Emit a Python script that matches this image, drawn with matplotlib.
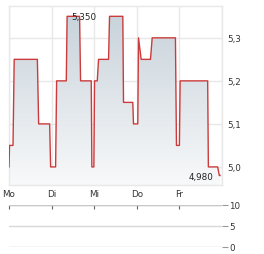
import numpy as np
import matplotlib
matplotlib.use('Agg')
import matplotlib.pyplot as plt
from matplotlib.patches import Polygon

# Kurs-Verlauf ueber die Woche (x in Tagen ab Montag)
zeit = [0.000, 0.012, 0.094, 0.122, 0.666, 0.696, 0.954, 0.977, 1.094, 1.118,
        1.345, 1.364, 1.657, 1.680, 1.931, 1.945, 1.992, 2.008, 2.072, 2.102,
        2.337, 2.360, 2.672, 2.688, 2.906, 2.922, 3.023, 3.040, 3.103, 3.321,
        3.361, 3.907, 3.931, 4.000, 4.017, 4.664, 4.680, 4.898, 4.938, 4.954]
kurs = [5.00, 5.05, 5.05, 5.25, 5.25, 5.10, 5.10, 5.00, 5.00, 5.20,
        5.20, 5.35, 5.35, 5.20, 5.20, 5.00, 5.00, 5.20, 5.20, 5.25,
        5.25, 5.35, 5.35, 5.15, 5.15, 5.10, 5.10, 5.30, 5.25, 5.25,
        5.30, 5.30, 5.05, 5.05, 5.20, 5.20, 5.00, 5.00, 4.98, 4.98]
tage = ['Mo', 'Di', 'Mi', 'Do', 'Fr']
kurs_ticks = [5.0, 5.1, 5.2, 5.3]
kurs_labels = ['5,0', '5,1', '5,2', '5,3']
vol_ticks = [0, 5, 10]
vol_labels = ['0', '5', '10']
hoch_label, hoch_x, hoch_y = '5,350', 1.47, 5.35
tief_label, tief_x, tief_y = '4,980', 4.80, 4.978

grid_c = '#e8e8e8'
text_c = '#333333'
fs = 6.3

fig = plt.figure(figsize=(2.64, 2.55), dpi=100)
ax = fig.add_axes([9/264, 1 - 186/255, 213/264, 179/255])
ymin, ymax = 4.958, 5.374
ax.set_xlim(0, 5)
ax.set_ylim(ymin, ymax)

# Verlaufsfuellung unter der Linie
grad = np.linspace(1, 0, 256).reshape(-1, 1)
top = np.array([0xc6, 0xd1, 0xd9]) / 255
bot = np.array([0xf8, 0xf9, 0xfa]) / 255
img = bot + (top - bot) * grad[..., None]
im = ax.imshow(img, extent=[0, 5, ymin, ymax], aspect='auto', zorder=1,
               origin='upper')
poly = Polygon(list(zip(zeit, kurs)) + [(zeit[-1], ymin), (zeit[0], ymin)],
               closed=True, facecolor='none', edgecolor='none')
ax.add_patch(poly)
im.set_clip_path(poly)

ax.plot(zeit, kurs, color='#cc3b3b', lw=1.0, zorder=3)

ax.set_xticks(range(len(tage)))
ax.set_xticklabels(tage)
ax.set_yticks(kurs_ticks)
ax.set_yticklabels(kurs_labels)
ax.yaxis.tick_right()
ax.tick_params(axis='both', length=0, labelsize=fs, colors=text_c)
ax.tick_params(axis='y', pad=4)
ax.tick_params(axis='x', pad=3)
for t in kurs_ticks:
    ax.axhline(t, color=grid_c, lw=1, zorder=0)
for t in range(6):
    ax.axvline(t, color=grid_c, lw=1, zorder=0)
for s in ax.spines.values():
    s.set_color(grid_c)
    s.set_linewidth(1)

ax.text(hoch_x, hoch_y, hoch_label, fontsize=fs, color='#222222',
        ha='left', va='center', zorder=4)
ax.text(tief_x, tief_y, tief_label, fontsize=fs, color='#222222',
        ha='right', va='center', zorder=4)

# Volumen-Bereich (leer)
vx = fig.add_axes([9/264, 1 - 248/255, 213/264, 42/255])
vx.set_xlim(0, 5)
vx.set_ylim(0, 10)
for s in vx.spines.values():
    s.set_visible(False)
for t in vol_ticks:
    vx.axhline(t, color='#d8d8d8' if t else '#cccccc', lw=1, zorder=0)
vx.axhline(10, color='#c8c8c8', lw=1)
vx.xaxis.tick_top()
vx.set_xticks(range(len(tage)))
vx.set_xticklabels([])
vx.tick_params(axis='x', direction='in', length=3, color='#666666', width=0.8)
vx.yaxis.tick_right()
vx.set_yticks(vol_ticks)
vx.set_yticklabels(vol_labels)
vx.tick_params(axis='y', length=4, color='#999999', width=0.8,
               labelsize=fs, labelcolor=text_c, pad=1)
vx.set_facecolor('none')

fig.savefig('out.png', dpi=100)
